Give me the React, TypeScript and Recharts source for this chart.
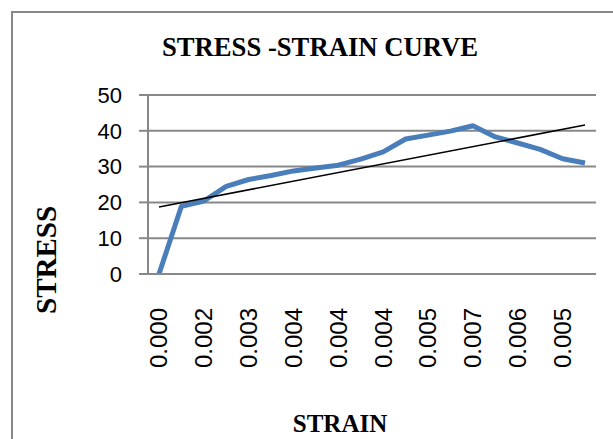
import React from 'react';
import { LineChart, Line, XAxis, YAxis, CartesianGrid } from 'recharts';

const strain = [
  '0.000', '0.001', '0.002', '0.003', '0.003', '0.003', '0.004', '0.004', '0.004', '0.004',
  '0.004', '0.005', '0.005', '0.006', '0.007', '0.007', '0.006', '0.006', '0.005', '0.005',
];
const stress = [
  0, 18.9, 20.4, 24.5, 26.4, 27.5, 28.8, 29.6, 30.4, 32.1,
  34.1, 37.7, 38.8, 39.9, 41.4, 38.3, 36.6, 34.8, 32.2, 31.0,
];
// linear trendline at its two ends
const trendStart = 18.7;
const trendEnd = 41.6;
const yTicks = [0, 10, 20, 30, 40, 50];

const data = strain.map((s, i) => ({
  strain: s,
  stress: stress[i],
  trend: i === 0 ? trendStart : i === strain.length - 1 ? trendEnd : null,
}));

const GRID = '#888888';

const StrainTick = (props: any) => {
  const { x, y, payload } = props;
  return (
    <text
      x={x}
      y={y + 26}
      transform={`rotate(-90, ${x}, ${y + 26})`}
      textAnchor="end"
      dy="0.35em"
      fontFamily="'Liberation Sans', Arial, sans-serif"
      fontSize={24}
      fill="#000"
    >
      {payload.value}
    </text>
  );
};

export default function App() {
  return (
    <div style={{ position: 'fixed', left: 0, top: 0, width: 613, height: 439, overflow: 'hidden', background: '#fff' }}>
      <div
        style={{
          position: 'absolute', left: 11, top: 11, width: 700, height: 600,
          borderLeft: `2.5px solid ${GRID}`, borderTop: `2.5px solid ${GRID}`,
        }}
      />
      <div style={{ position: 'absolute', left: 0, top: 0 }}>
        <LineChart width={613} height={439} data={data} margin={{ top: 95, right: 17, left: 0, bottom: 65 }}>
          <CartesianGrid horizontal vertical={false} stroke={GRID} strokeWidth={2} />
          <XAxis
            dataKey="strain"
            interval={1}
            tickLine={false}
            padding={{ left: 11, right: 11 }}
            axisLine={{ stroke: GRID, strokeWidth: 2 }}
            height={100}
            tick={<StrainTick />}
          />
          <YAxis
            width={148}
            domain={[0, 50]}
            ticks={yTicks}
            tickSize={9}
            tickMargin={17}
            axisLine={{ stroke: GRID, strokeWidth: 2 }}
            tickLine={{ stroke: GRID, strokeWidth: 2 }}
            tick={{ fill: '#000', fontSize: 22, fontFamily: "'Liberation Sans', Arial, sans-serif" }}
          />
          <Line
            dataKey="stress"
            stroke="#4a7ebb"
            strokeWidth={5}
            strokeLinejoin="round"
            dot={false}
            isAnimationActive={false}
          />
          <Line
            dataKey="trend"
            stroke="#000"
            strokeWidth={1.6}
            dot={false}
            connectNulls
            isAnimationActive={false}
          />
        </LineChart>
      </div>
      <svg width={613} height={439} style={{ position: 'absolute', left: 0, top: 0, pointerEvents: 'none' }}>
        <g fontFamily="'Liberation Serif', 'Times New Roman', serif" fontWeight="bold" fill="#000">
          <text x={320} y={56} textAnchor="middle" fontSize={27} textLength={316} lengthAdjust="spacingAndGlyphs">
            STRESS -STRAIN CURVE
          </text>
          <text x={340} y={432} textAnchor="middle" fontSize={25}>
            STRAIN
          </text>
          <text transform="translate(56, 260) rotate(-90)" textAnchor="middle" fontSize={29}>
            STRESS
          </text>
        </g>
      </svg>
    </div>
  );
}
